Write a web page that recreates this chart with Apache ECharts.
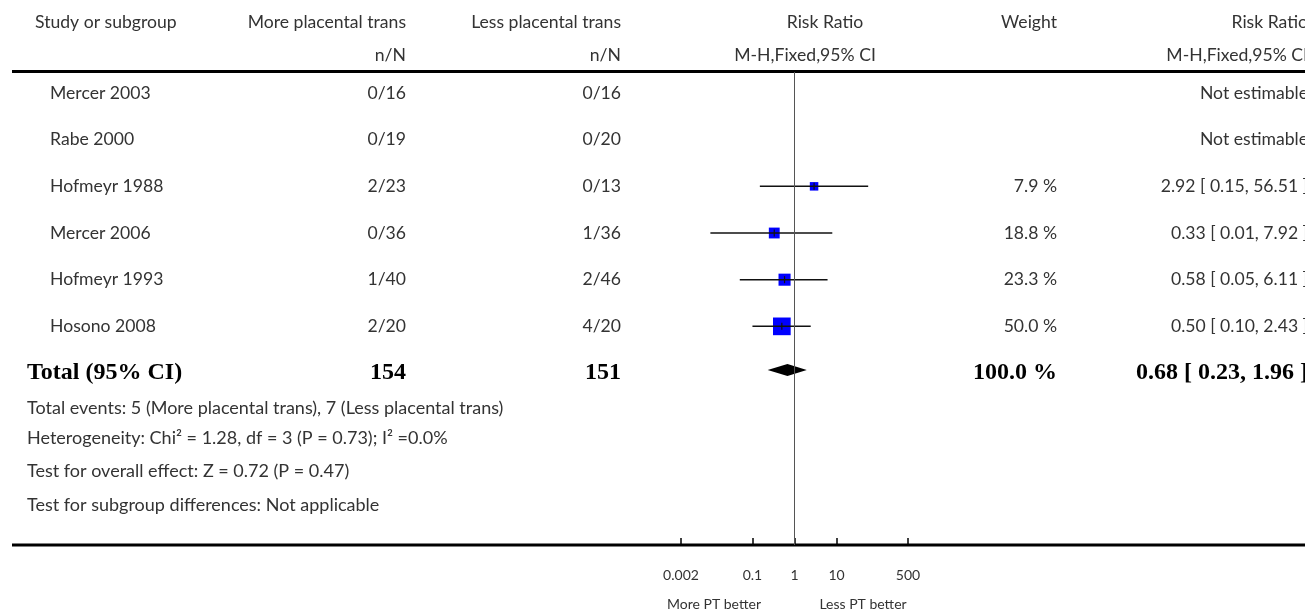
<!DOCTYPE html>
<html>
<head>
<meta charset="utf-8">
<title>Risk Ratio forest plot</title>
<script src="https://cdn.jsdelivr.net/npm/echarts@6/dist/echarts.min.js"></script>
<style>
  html, body { margin: 0; padding: 0; background: #ffffff; }
  #chart { width: 1305px; height: 613px; }
</style>
</head>
<body>
<div id="chart"></div>
<script>
// ---- study data ----
const studies   = ['Mercer 2003', 'Rabe 2000', 'Hofmeyr 1988', 'Mercer 2006', 'Hofmeyr 1993', 'Hosono 2008'];
const moreEvents = ['0/16', '0/19', '2/23', '0/36', '1/40', '2/20'];
const lessEvents = ['0/16', '0/20', '0/13', '1/36', '2/46', '4/20'];
const weights   = [null, null, 7.9, 18.8, 23.3, 50.0];
const riskRatio = [null, null, 2.92, 0.33, 0.58, 0.50];
const ciLower   = [null, null, 0.15, 0.01, 0.05, 0.10];
const ciUpper   = [null, null, 56.51, 7.92, 6.11, 2.43];

// ---- pooled result ----
const totalMoreN = 154;
const totalLessN = 151;
const totalWeight = 100.0;
const totalRR = 0.68;
const totalLower = 0.23;
const totalUpper = 1.96;

// ---- axis ----
const axisTicks = [0.002, 0.1, 1, 10, 500];
const axisMin = 0.002;
const axisMax = 500;
const favourLeft = 'More PT better';
const favourRight = 'Less PT better';

// ---- headers and footnotes ----
const headers = {
  study: 'Study or subgroup',
  more: 'More placental trans',
  less: 'Less placental trans',
  plot: 'Risk Ratio',
  weight: 'Weight',
  result: 'Risk Ratio',
  unit: 'n/N',
  method: 'M-H,Fixed,95% CI'
};
const footnotes = [
  'Total events: 5 (More placental trans), 7 (Less placental trans)',
  'Heterogeneity: Chi\u00B2 = 1.28, df = 3 (P = 0.73); I\u00B2 =0.0%',
  'Test for overall effect: Z = 0.72 (P = 0.47)',
  'Test for subgroup differences: Not applicable'
];

// ---- layout / style ----
const SANS = 'Lato, "Open Sans", "DejaVu Sans", sans-serif';
const SERIF = '"Liberation Serif", "DejaVu Serif", serif';
const TXT = '#333333';
const COL = { head: 35, study: 50, total: 27, more: 406, less: 621, plotHead: 825, plotSub: 805, weight: 1057, result: 1308 };
const BODY_SIZE = 17.6;
const FOOT_SIZE = 18;
const TOTAL_SIZE = 24;
const footY = [408, 438, 471, 505];
const totalRow = studies.length;

function fmt2(v) { return v.toFixed(2); }
function ciText(r, l, h) { return fmt2(r) + ' [ ' + fmt2(l) + ', ' + fmt2(h) + ' ]'; }

function txt(x, y, s, align, opt) {
  opt = opt || {};
  return {
    type: 'text',
    x: x, y: y,
    style: {
      text: s,
      fill: opt.color || TXT,
      font: (opt.bold ? 'bold ' : '') + (opt.size || BODY_SIZE) + 'px ' + (opt.family || SANS),
      textAlign: align,
      textVerticalAlign: 'middle'
    },
    silent: true
  };
}

const chart = echarts.init(document.getElementById('chart'), null, { renderer: 'canvas' });

// rows of the table (one per study plus the total row)
const tableRows = studies.map((s, i) => [1, i]).concat([[1, totalRow]]);

// study estimates with a confidence interval
const estimateData = [];
studies.forEach((s, i) => {
  if (riskRatio[i] != null) {
    estimateData.push([riskRatio[i], i, ciLower[i], ciUpper[i], weights[i]]);
  }
});

const option = {
  animation: false,
  backgroundColor: '#ffffff',
  grid: { left: 681, width: 227, top: 72, height: 473, containLabel: false },
  xAxis: {
    type: 'log',
    logBase: 10,
    min: axisMin,
    max: axisMax,
    position: 'bottom',
    axisLine: { show: false, onZero: false },
    splitLine: { show: false },
    axisTick: {
      show: true,
      inside: true,
      length: 7,
      customValues: axisTicks,
      lineStyle: { color: '#000', width: 1.5 }
    },
    axisLabel: {
      customValues: axisTicks,
      margin: 23,
      color: TXT,
      fontFamily: SANS,
      fontSize: 14,
      formatter: v => String(v)
    }
  },
  yAxis: { type: 'value', inverse: true, min: -0.45, max: 9.685, show: false },
  graphic: [
    { type: 'rect', shape: { x: 12, y: 70, width: 1300, height: 3 }, style: { fill: '#000' }, silent: true },
    { type: 'rect', shape: { x: 12, y: 543.5, width: 1300, height: 3 }, style: { fill: '#000' }, silent: true },
    txt(714, 604, favourLeft, 'center', { size: 14 }),
    txt(863, 604, favourRight, 'center', { size: 14 }),
    txt(COL.head, 22, headers.study, 'left'),
    txt(COL.more, 22, headers.more, 'right'),
    txt(COL.more, 55, headers.unit, 'right'),
    txt(COL.less, 22, headers.less, 'right'),
    txt(COL.less, 55, headers.unit, 'right'),
    txt(COL.plotHead, 22, headers.plot, 'center'),
    txt(COL.plotSub, 55, headers.method, 'center'),
    txt(COL.weight, 22, headers.weight, 'right'),
    txt(COL.result, 22, headers.result, 'right'),
    txt(COL.result, 55, headers.method, 'right')
  ].concat(footnotes.map((f, k) => txt(COL.total, footY[k], f, 'left', { size: FOOT_SIZE }))),
  series: [
    {
      // table text rows
      type: 'custom',
      clip: false,
      silent: true,
      data: tableRows,
      renderItem: function (params, api) {
        const i = params.dataIndex;
        const y = api.coord([1, api.value(1)])[1];
        if (i === totalRow) {
          const o = { bold: true, size: TOTAL_SIZE, family: SERIF, color: '#000' };
          return {
            type: 'group',
            children: [
              txt(COL.total, y, 'Total (95% CI)', 'left', o),
              txt(COL.more, y, String(totalMoreN), 'right', o),
              txt(COL.less, y, String(totalLessN), 'right', o),
              txt(COL.weight, y, totalWeight.toFixed(1) + ' %', 'right', o),
              txt(COL.result, y, ciText(totalRR, totalLower, totalUpper), 'right', o)
            ]
          };
        }
        const kids = [
          txt(COL.study, y, studies[i], 'left'),
          txt(COL.more, y, moreEvents[i], 'right'),
          txt(COL.less, y, lessEvents[i], 'right')
        ];
        if (riskRatio[i] == null) {
          kids.push(txt(COL.result, y, 'Not estimable', 'right'));
        } else {
          kids.push(txt(COL.weight, y, weights[i].toFixed(1) + ' %', 'right'));
          kids.push(txt(COL.result, y, ciText(riskRatio[i], ciLower[i], ciUpper[i]), 'right'));
        }
        return { type: 'group', children: kids };
      }
    },
    {
      // study squares with confidence intervals
      type: 'custom',
      clip: false,
      data: estimateData,
      markLine: {
        silent: true,
        symbol: 'none',
        label: { show: false },
        lineStyle: { color: '#555', width: 1, type: 'solid' },
        data: [{ xAxis: 1 }]
      },
      renderItem: function (params, api) {
        const p = api.coord([api.value(0), api.value(1)]);
        const l = api.coord([api.value(2), api.value(1)]);
        const h = api.coord([api.value(3), api.value(1)]);
        const side = Math.max(8.5, 2.5 * Math.sqrt(api.value(4)));
        return {
          type: 'group',
          children: [
            { type: 'rect', shape: { x: p[0] - side / 2, y: p[1] - side / 2, width: side, height: side },
              style: { fill: '#0000ff' } },
            { type: 'line', shape: { x1: l[0], y1: p[1], x2: h[0], y2: p[1] },
              style: { stroke: '#111', lineWidth: 1.5 } },
            { type: 'line', shape: { x1: p[0], y1: p[1] - 3.5, x2: p[0], y2: p[1] + 3.5 },
              style: { stroke: '#111', lineWidth: 1.2 } }
          ]
        };
      }
    },
    {
      // pooled estimate diamond
      type: 'custom',
      clip: false,
      data: [[totalRR, totalRow, totalLower, totalUpper]],
      renderItem: function (params, api) {
        const c = api.coord([api.value(0), api.value(1)]);
        const l = api.coord([api.value(2), api.value(1)]);
        const h = api.coord([api.value(3), api.value(1)]);
        const yc = c[1] - 3;
        return {
          type: 'polygon',
          shape: { points: [[l[0], yc], [c[0], yc - 6], [h[0], yc], [c[0], yc + 6]] },
          style: { fill: '#000' }
        };
      }
    }
  ]
};

chart.setOption(option);
</script>
</body>
</html>
